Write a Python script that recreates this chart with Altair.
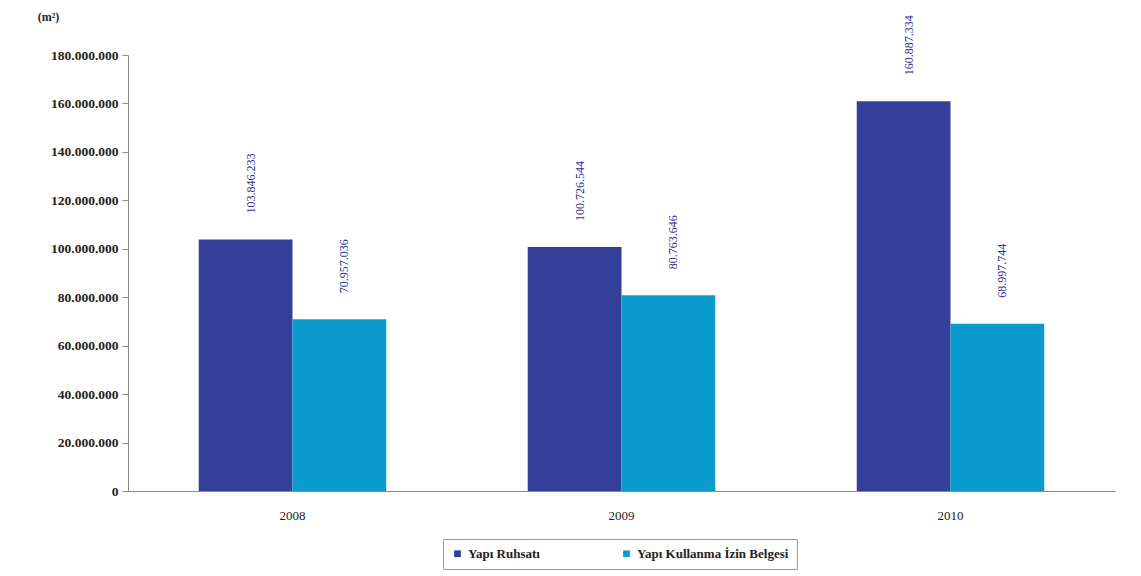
import altair as alt
import pandas as pd

years = ["2008", "2009", "2010"]
series = ["Yapı Ruhsatı", "Yapı Kullanma İzin Belgesi"]
ruhsat = [103846233, 100726544, 160887334]
iskan = [70957036, 80763646, 68997744]
y_ticks = [0, 20000000, 40000000, 60000000, 80000000, 100000000,
           120000000, 140000000, 160000000, 180000000]

rows = []
for i, yr in enumerate(years):
    for s, vals in zip(series, [ruhsat, iskan]):
        v = vals[i]
        rows.append({"year": yr, "series": s, "value": v,
                     "label": f"{v:,}".replace(",", ".")})
df = pd.DataFrame(rows)

FONT = "Liberation Serif"

x = alt.X("year:N", title=None,
          scale=alt.Scale(paddingInner=0.43, paddingOuter=0.215),
          axis=alt.Axis(labelAngle=0, ticks=False, domainColor="#8a8a8a",
                        labelFont=FONT, labelFontSize=13, labelColor="#222",
                        labelPadding=18))
y = alt.Y("value:Q", title="(m²)",
          scale=alt.Scale(domain=[0, 180000000], nice=False),
          axis=alt.Axis(values=y_ticks, grid=False,
                        labelExpr="replace(format(datum.value, ','), regexp(',', 'g'), '.')",
                        labelFont=FONT, labelFontSize=13.5, labelFontWeight="bold",
                        labelColor="#222", labelPadding=4,
                        tickSize=6, tickColor="#8a8a8a", domainColor="#8a8a8a",
                        titleAngle=0, titleX=-80, titleY=-32, titleAlign="center",
                        titleFont=FONT, titleFontSize=12, titleFontWeight="bold",
                        titleColor="#222"))
xo = alt.XOffset("series:N", sort=series, scale=alt.Scale(paddingInner=0, paddingOuter=0))

bars = alt.Chart(df).mark_bar().encode(
    x=x, y=y, xOffset=xo,
    color=alt.Color("series:N", sort=series,
                    scale=alt.Scale(domain=series, range=["#343f99", "#0a9bcc"]),
                    legend=alt.Legend(title=None, orient="none", direction="horizontal",
                                      legendX=315, legendY=484,
                                      symbolType="square", symbolSize=45,
                                      labelFont=FONT, labelFontSize=13,
                                      labelFontWeight="bold", labelColor="#222",
                                      columnPadding=80, padding=8,
                                      strokeColor="#9a9a9a", fillColor="white",
                                      labelLimit=300)),
)

labels = alt.Chart(df).mark_text(angle=270, align="left", baseline="middle",
                                 dx=26, dy=5, font=FONT, fontSize=12,
                                 color="#2e3192").encode(
    x=alt.X("year:N"), y=alt.Y("value:Q"), xOffset=xo, text="label:N")

chart = alt.layer(bars, labels).properties(
    width=987, height=436,
    autosize=alt.AutoSizeParams(type="none"),
    padding={"left": 120, "top": 47, "right": 18, "bottom": 80},
    background="white",
).configure_view(stroke=None)

chart.save("out.html", embed_options={"renderer": "svg", "actions": False})
